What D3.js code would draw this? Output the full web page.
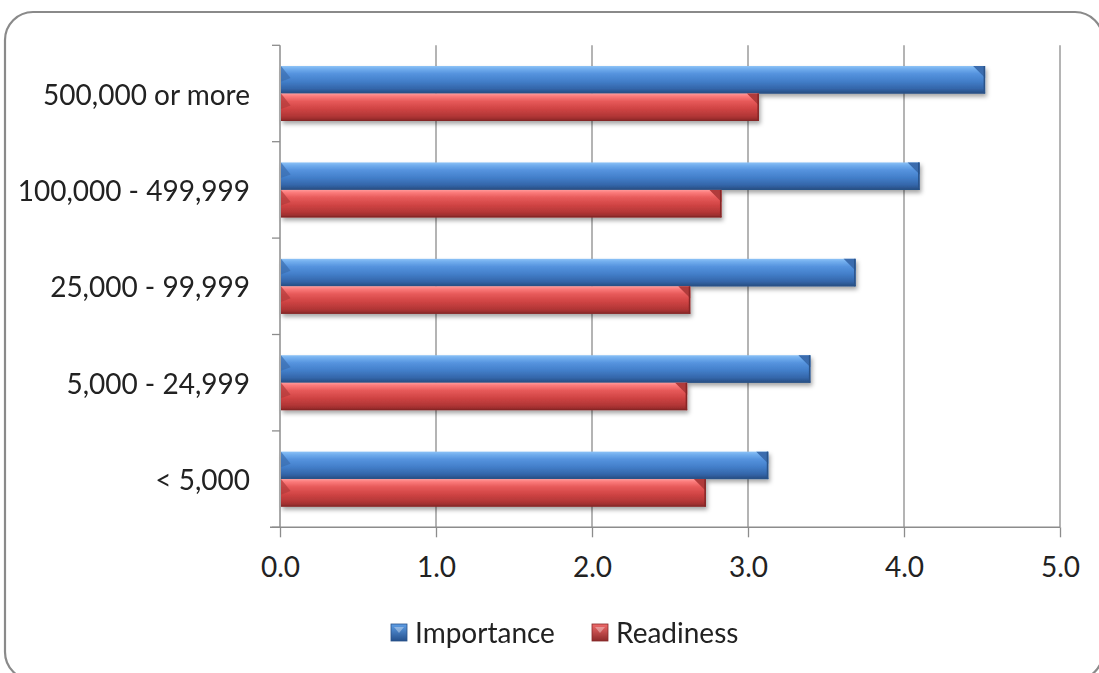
<!DOCTYPE html>
<html>
<head>
<meta charset="utf-8">
<script src="https://cdn.jsdelivr.net/npm/d3@7/dist/d3.min.js"></script>
<style>
  html, body { margin: 0; padding: 0; background: #ffffff; }
  svg { display: block; }
  text { font-family: Lato, "Open Sans", sans-serif; fill: #222; }
</style>
</head>
<body>
<svg id="chart" width="1099" height="673"></svg>
<script>
// Population size groups, top to bottom
const categories = ["500,000 or more", "100,000 - 499,999", "25,000 - 99,999", "5,000 - 24,999", "< 5,000"];
const seriesNames = ["Importance", "Readiness"];
const importance = [4.52, 4.10, 3.69, 3.40, 3.13];
const readiness  = [3.07, 2.83, 2.63, 2.61, 2.73];
const xTicks = [0, 1, 2, 3, 4, 5];

const seriesValues = { Importance: importance, Readiness: readiness };

const svg = d3.select("#chart");
const plot = { left: 280, right: 1060, top: 45.3, bottom: 527.3 };
const fontSize = "28px";

// Outer rounded frame
svg.append("rect")
  .attr("x", 5).attr("y", 12)
  .attr("width", 1098).attr("height", 668)
  .attr("rx", 28).attr("ry", 28)
  .attr("fill", "#fff")
  .attr("stroke", "#8a8a8a").attr("stroke-width", 2.2);

const defs = svg.append("defs");

const palettes = {
  Importance: {
    stops: [[0, "#8cc2f6"], [0.1, "#72aeee"], [0.28, "#5593de"], [0.55, "#437fca"], [0.82, "#3466aa"], [1, "#264c80"]],
    bevel: "#3a6cae", edge: "#2a5288", legendTop: "#5e9ee6", legendBottom: "#24508c"
  },
  Readiness: {
    stops: [[0, "#ff9a9a"], [0.1, "#fb7a7a"], [0.28, "#e75a5a"], [0.55, "#d04444"], [0.82, "#b23636"], [1, "#8c2828"]],
    bevel: "#b03a3a", edge: "#862828", legendTop: "#f06a6a", legendBottom: "#8e2a2a"
  }
};

seriesNames.forEach(name => {
  const g = defs.append("linearGradient")
    .attr("id", "grad-" + name)
    .attr("x1", 0).attr("y1", 0).attr("x2", 0).attr("y2", 1);
  palettes[name].stops.forEach(s => g.append("stop").attr("offset", s[0]).attr("stop-color", s[1]));
  const lg = defs.append("linearGradient")
    .attr("id", "leg-" + name)
    .attr("x1", 0).attr("y1", 0).attr("x2", 0).attr("y2", 1);
  lg.append("stop").attr("offset", 0).attr("stop-color", palettes[name].legendTop);
  lg.append("stop").attr("offset", 1).attr("stop-color", palettes[name].legendBottom);
});

const shadow = defs.append("filter").attr("id", "barShadow")
  .attr("x", "-5%").attr("y", "-20%").attr("width", "110%").attr("height", "160%");
shadow.append("feDropShadow")
  .attr("dx", 1.5).attr("dy", 3).attr("stdDeviation", 2.2)
  .attr("flood-color", "#000").attr("flood-opacity", 0.35);

// Scales
const x = d3.scaleLinear().domain([0, 5]).range([plot.left, plot.right]);
const y0 = d3.scaleBand().domain(categories)
  .range([plot.top, plot.bottom])
  .paddingInner(0.43).paddingOuter(0.215);
const y1 = d3.scaleBand().domain(seriesNames).range([0, y0.bandwidth()]);

// Vertical gridlines
svg.append("g").selectAll("line")
  .data(xTicks.slice(1))
  .join("line")
  .attr("x1", d => x(d)).attr("x2", d => x(d))
  .attr("y1", plot.top).attr("y2", plot.bottom)
  .attr("stroke", "#8c8c8c").attr("stroke-width", 1.3);

// Bars
const step = y0.step();
const bars = svg.append("g").attr("filter", "url(#barShadow)");
categories.forEach((cat, i) => {
  seriesNames.forEach(name => {
    const v = seriesValues[name][i];
    const top = y0(cat) + y1(name);
    const h = y1.bandwidth();
    const x0 = x(0) + 1, x1 = x(v);
    const g = bars.append("g");
    g.append("rect")
      .attr("x", x0).attr("y", top)
      .attr("width", x1 - x0).attr("height", h)
      .attr("fill", `url(#grad-${name})`);
    const b = Math.min(12, h * 0.44);
    // right-end chamfer
    g.append("path")
      .attr("d", `M${x1 - b},${top} L${x1},${top} L${x1},${top + b} Z`)
      .attr("fill", palettes[name].bevel);
    g.append("rect")
      .attr("x", x1 - 1.5).attr("y", top).attr("width", 1.5).attr("height", h)
      .attr("fill", palettes[name].edge);
    // left-end chamfer
    g.append("path")
      .attr("d", `M${x0},${top} L${x0 + b * 0.8},${top + b} L${x0},${top + b * 1.3} Z`)
      .attr("fill", palettes[name].bevel).attr("opacity", 0.7);
    g.append("rect")
      .attr("x", x0).attr("y", top + h - 1.2).attr("width", x1 - x0).attr("height", 1.2)
      .attr("fill", palettes[name].edge);
  });
});

// Axis lines and ticks
const axisColor = "#8c8c8c";
const xAxis = d3.axisBottom(x).tickValues(xTicks).tickFormat(d3.format(".1f"))
  .tickSize(10).tickPadding(20);
const gx = svg.append("g").attr("transform", `translate(0,${plot.bottom})`).call(xAxis);
gx.select(".domain").remove();
gx.selectAll(".tick line").attr("stroke", axisColor).attr("stroke-width", 1.3);
gx.selectAll(".tick text")
  .attr("fill", "#222").style("font-size", fontSize).style("font-family", "Lato, sans-serif");

svg.append("line")
  .attr("x1", plot.left - 10).attr("x2", plot.right)
  .attr("y1", plot.bottom).attr("y2", plot.bottom)
  .attr("stroke", axisColor).attr("stroke-width", 1.5);

// Category axis: ticks sit on band boundaries
const boundaries = categories.map(c => y0(c) - (step - y0.bandwidth()) / 2).concat([plot.bottom]);
svg.append("line")
  .attr("x1", plot.left).attr("x2", plot.left)
  .attr("y1", plot.top).attr("y2", plot.bottom)
  .attr("stroke", axisColor).attr("stroke-width", 1.5);
svg.append("g").selectAll("line")
  .data(boundaries)
  .join("line")
  .attr("x1", plot.left - 8).attr("x2", plot.left)
  .attr("y1", d => d).attr("y2", d => d)
  .attr("stroke", axisColor).attr("stroke-width", 1.3);

svg.append("g").selectAll("text")
  .data(categories)
  .join("text")
  .attr("x", 250)
  .attr("y", d => y0(d) + y0.bandwidth() / 2)
  .attr("text-anchor", "end")
  .attr("dominant-baseline", "central")
  .style("font-size", fontSize)
  .text(d => d);

// Legend
const legendItems = [
  { name: "Importance", sx: 391, tx: 415 },
  { name: "Readiness", sx: 592, tx: 616 }
];
const lg = svg.append("g");
legendItems.forEach(it => {
  lg.append("rect")
    .attr("x", it.sx).attr("y", 624).attr("width", 16).attr("height", 17)
    .attr("fill", `url(#leg-${it.name})`)
    .attr("stroke", palettes[it.name].edge).attr("stroke-width", 0.8);
  lg.append("path")
    .attr("d", `M${it.sx + 3},${627} L${it.sx + 13},${627} L${it.sx + 8},${633} Z`)
    .attr("fill", "#ffffff").attr("opacity", 0.35);
  lg.append("text")
    .attr("x", it.tx).attr("y", 632)
    .attr("dominant-baseline", "central")
    .style("font-size", fontSize)
    .text(it.name);
});
</script>
</body>
</html>
